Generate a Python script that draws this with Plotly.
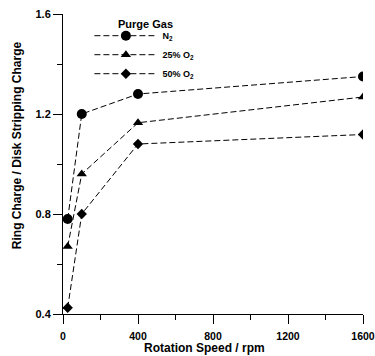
import plotly.graph_objects as go

speeds = [25, 100, 400, 1600]
series_names = ["N<sub>2</sub>", "25% O<sub>2</sub>", "50% O<sub>2</sub>"]
n2_vals = [0.78, 1.20, 1.28, 1.35]
o2_25_vals = [0.67, 0.96, 1.165, 1.268]
o2_50_vals = [0.425, 0.80, 1.08, 1.118]
x_ticks = [0, 400, 800, 1200, 1600]
y_ticks = [0.4, 0.8, 1.2, 1.6]

symbols = ["circle", "triangle-up", "diamond"]
sizes = [10, 9, 8]
all_vals = [n2_vals, o2_25_vals, o2_50_vals]

FONT = "Liberation Sans, Arial, sans-serif"

fig = go.Figure()
for name, vals, sym, sz in zip(series_names, all_vals, symbols, sizes):
    fig.add_trace(go.Scatter(
        x=speeds, y=vals, name=name, mode="lines+markers",
        line=dict(color="black", width=1, dash="6px,3px"),
        marker=dict(symbol=sym, size=sz, color="black"),
    ))

axis_common = dict(
    showline=True, linecolor="black", linewidth=1,
    ticks="outside", ticklen=9, tickwidth=1, tickcolor="black",
    showgrid=False, zeroline=False, ticklabeloverflow="allow",
)

fig.update_xaxes(range=[0, 1600], tickvals=x_ticks, ticktext=[str(v) for v in x_ticks],
                 tickfont=dict(family=FONT, size=10.5, color="black", weight="bold"),
                 ticklabelstandoff=3,
                 minor=dict(dtick=200, tick0=0, ticklen=5, ticks="outside", tickcolor="black", showgrid=False),
                 **axis_common)
fig.update_yaxes(range=[0.4, 1.6], tickvals=y_ticks, ticktext=[f"{v:.1f}" for v in y_ticks],
                 tickfont=dict(family=FONT, size=11, color="black", weight="bold"),
                 minor=dict(dtick=0.2, tick0=0.4, ticklen=5, ticks="outside", tickcolor="black", showgrid=False),
                 **axis_common)

fig.update_layout(
    width=375, height=356,
    margin=dict(l=63, r=12, t=14, b=42, autoexpand=False),
    paper_bgcolor="white", plot_bgcolor="white",
    font=dict(family=FONT, color="black"),
    legend=dict(
        x=0.088, y=0.976, xanchor="left", yanchor="top",
        font=dict(family=FONT, size=9, color="black", weight="bold"),
        itemwidth=63, bgcolor="rgba(0,0,0,0)", tracegroupgap=0,
    ),
    annotations=[
        dict(text="Purge Gas", xref="paper", yref="paper",
             x=0.275, y=0.967, showarrow=False,
             font=dict(family=FONT, size=11, color="black", weight="bold"),
             xanchor="center", yanchor="middle"),
        dict(text="Ring Charge / Disk Stripping Charge", xref="paper", yref="paper",
             x=-0.153, y=0.563, textangle=-90, showarrow=False,
             font=dict(family=FONT, size=12, color="black", weight="bold"),
             xanchor="center", yanchor="middle"),
        dict(text="Rotation Speed / rpm", xref="paper", yref="paper",
             x=0.472, y=-0.113, showarrow=False,
             font=dict(family=FONT, size=12, color="black", weight="bold"),
             xanchor="center", yanchor="middle"),
    ],
)

# remove the page's default body margin so the 375x356 figure fills the window exactly
fig.write_html(
    "out.html",
    config={"displayModeBar": False},
    post_script="document.body.style.margin='0';document.body.style.overflow='hidden';",
)
